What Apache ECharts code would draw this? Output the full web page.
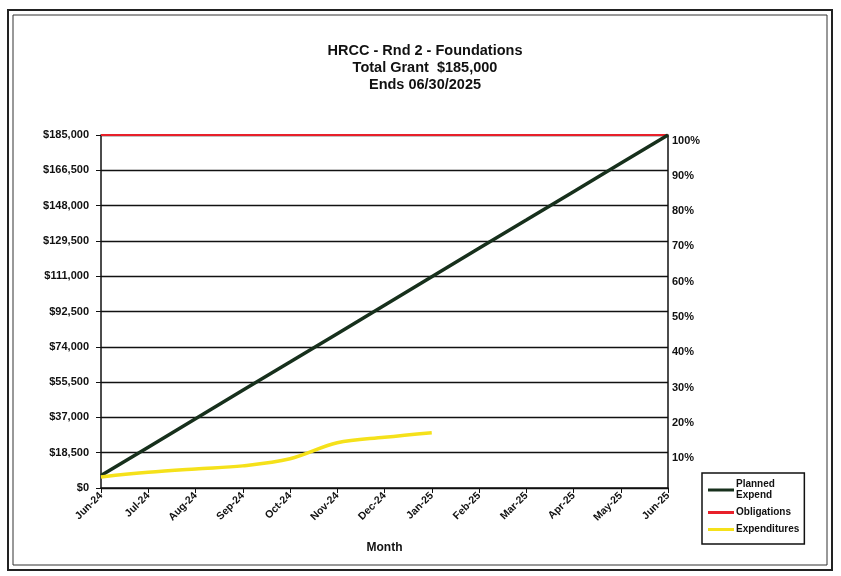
<!DOCTYPE html>
<html><head><meta charset="utf-8">
<script src="https://cdn.jsdelivr.net/npm/echarts@6/dist/echarts.min.js"></script>
<style>html,body{margin:0;padding:0;background:#fff}#c{width:841px;height:576px}</style>
</head><body><div id="c"></div>
<script>
var months = ['Jun-24','Jul-24','Aug-24','Sep-24','Oct-24','Nov-24','Dec-24','Jan-25','Feb-25','Mar-25','Apr-25','May-25','Jun-25'];
var plannedExpend = [6500, 21400, 36300, 51200, 66000, 80900, 95800, 110700, 125600, 140400, 155300, 170200, 185000];
var obligations = [185000,185000,185000,185000,185000,185000,185000,185000,185000,185000,185000,185000,185000];
var expenditures = [5800, 8200, 10000, 11600, 15300, 23700, 26600, 29000, null, null, null, null, null];
var titleLines = ['HRCC - Rnd 2 - Foundations','Total Grant  $185,000','Ends 06/30/2025'];

var FF = '"Liberation Sans", Arial, sans-serif';
function money(v){ return '$' + String(v).replace(/\B(?=(\d{3})+(?!\d))/g, ','); }
var chart = echarts.init(document.getElementById('c'));
chart.setOption({
  animation:false,
  backgroundColor:'#fff',
  title:{text:titleLines.join('\n'), top:37, textAlign:'center', left:420,
    textStyle:{fontFamily:FF, fontWeight:'bold', fontSize:14.5, lineHeight:17, color:'#111'}},
  grid:{left:101, right:173, top:135, bottom:88},
  legend:{orient:'vertical', left:702, top:473,
    borderColor:'#111', borderWidth:1.5, padding:[6,5,9,6], itemGap:6,
    itemWidth:26, itemHeight:3, icon:'rect',
    textStyle:{fontFamily:FF, fontWeight:'bold', fontSize:10, color:'#111', lineHeight:11, padding:[0,0,0,-3]},
    formatter:function(n){ return n==='Planned Expend' ? 'Planned\nExpend' : n; },
    data:['Planned Expend','Obligations','Expenditures']},
  xAxis:{type:'category', data:months, boundaryGap:false,
    name:'Month', nameLocation:'middle', nameGap:54,
    nameTextStyle:{fontFamily:FF, fontWeight:'bold', fontSize:12, color:'#111'},
    axisLine:{lineStyle:{color:'#111', width:1.5}},
    axisTick:{show:true, length:5, lineStyle:{color:'#111'}},
    axisLabel:{rotate:45, fontFamily:FF, fontWeight:'bold', fontSize:10.5, color:'#111', margin:6}},
  yAxis:[
    {type:'value', min:0, max:185000, interval:18500,
     axisLine:{show:true, lineStyle:{color:'#111', width:1.5}},
     axisTick:{show:true, length:5, lineStyle:{color:'#111'}},
     splitLine:{show:true, lineStyle:{color:'#111', width:1.3}},
     axisLabel:{formatter:money, fontFamily:FF, fontWeight:'bold', fontSize:11, color:'#111', margin:12}},
    {type:'value', min:0, max:100, interval:10, position:'right',
     axisLine:{show:true, lineStyle:{color:'#111', width:1.5}},
     axisTick:{show:false},
     splitLine:{show:false},
     axisLabel:{formatter:function(v){return v===0?'':v+'%';}, fontFamily:FF, fontWeight:'bold', fontSize:11, color:'#111', margin:4, verticalAlign:'top'}}
  ],
  series:[
    {name:'Planned Expend', type:'line', data:plannedExpend, showSymbol:false, symbol:'none',
     lineStyle:{color:'#17301c', width:3.5}, itemStyle:{color:'#17301c'}, z:3},
    {name:'Obligations', type:'line', data:obligations, showSymbol:false, symbol:'none',
     lineStyle:{color:'#e8202a', width:2}, itemStyle:{color:'#e8202a'}, z:2},
    {name:'Expenditures', type:'line', data:expenditures, showSymbol:false, symbol:'none', smooth:0.35,
     lineStyle:{color:'#f5e11a', width:3.5}, itemStyle:{color:'#f5e11a'}, z:4}
  ],
  graphic:[
    {type:'rect', shape:{x:8, y:10, width:824, height:560}, style:{fill:'none', stroke:'#222', lineWidth:2}, z:-1},
    {type:'rect', shape:{x:13, y:15, width:814, height:550}, style:{fill:'none', stroke:'#333', lineWidth:1}, z:-1}
  ]
});
</script></body></html>
